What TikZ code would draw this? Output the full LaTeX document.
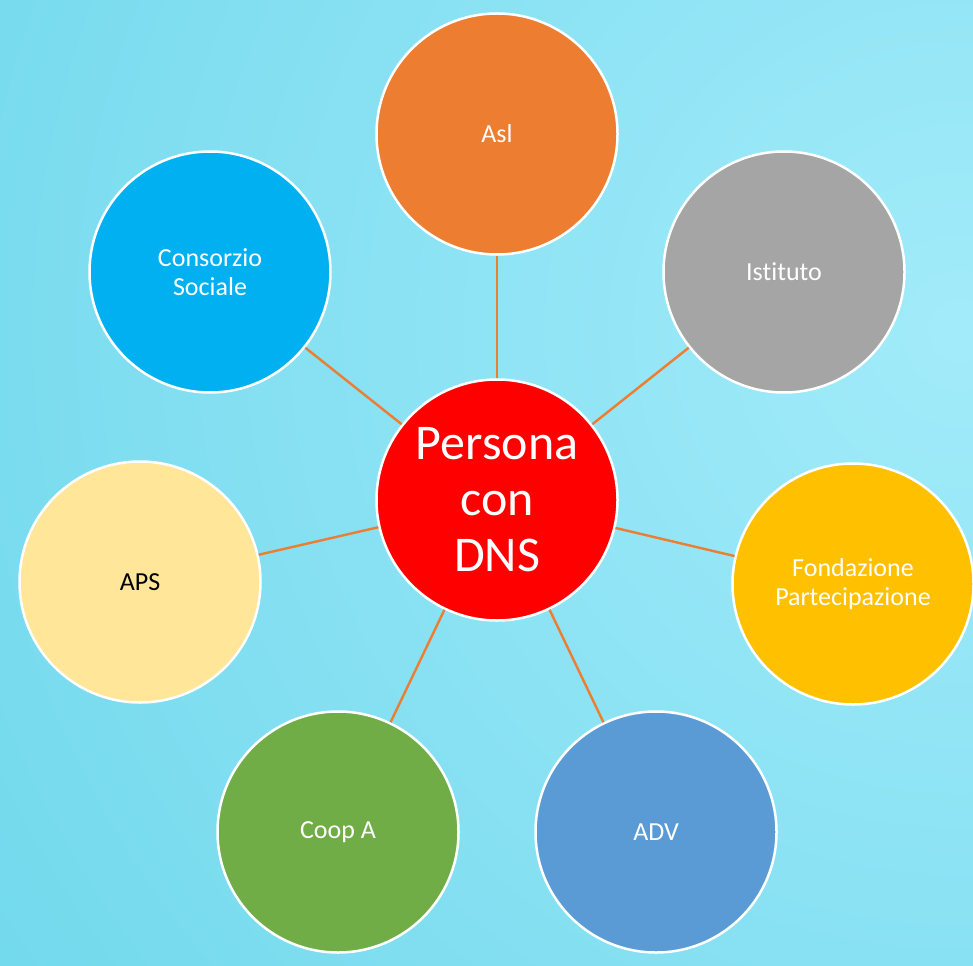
\documentclass[tikz,border=0pt]{standalone}
\usepackage{fontspec}
\setmainfont[Ligatures=NoCommon]{Carlito}
\definecolor{bgdark}{HTML}{60D2E7}
\definecolor{bglight}{HTML}{A2EBFA}
\definecolor{linkorange}{HTML}{ED7D31}
\definecolor{cAsl}{HTML}{ED7D31}
\definecolor{cIst}{HTML}{A5A5A5}
\definecolor{cFond}{HTML}{FFC000}
\definecolor{cAdv}{HTML}{5B9BD5}
\definecolor{cCoop}{HTML}{70AD47}
\definecolor{cAps}{HTML}{FFE699}
\definecolor{cCons}{HTML}{00B0F0}
\definecolor{cCentre}{HTML}{FF0000}
\begin{document}
\begin{tikzpicture}[x=1pt,y=-1pt,
  bubble/.style={circle,draw=white,line width=2.5pt,inner sep=0pt,
    minimum size=241pt,text=white,align=center,
    font=\fontsize{26}{29}\selectfont},
  hub/.style={bubble,fill=cCentre,font=\fontsize{50}{56}\selectfont},
  link/.style={draw=linkorange,line width=2.4pt}]
  % background with a soft light spot on the right
  \useasboundingbox (0,0) rectangle (973,965);
  \begin{scope}
    \clip (0,0) rectangle (973,965);
    \fill[bgdark] (0,0) rectangle (973,965);
    \shade[inner color=bglight,outer color=bgdark] (960,330) circle (1600);
  \end{scope}
  % nodes
  \node[hub] (centre) at (497,500) {Persona\\con\\DNS};
  \node[bubble,fill=cAsl] (asl) at (497,134) {Asl};
  \node[bubble,fill=cIst] (ist) at (784,272) {Istituto};
  \node[bubble,fill=cFond] (fond) at (853,584) {Fondazione\\Partecipazione};
  \node[bubble,fill=cAdv] (adv) at (656,832) {ADV};
  \node[bubble,fill=cCoop] (coop) at (338,832) {Coop A};
  \node[bubble,fill=cAps,text=black] (aps) at (140,582) {APS};
  \node[bubble,fill=cCons] (cons) at (210,272) {Consorzio\\Sociale};
  % connectors
  \foreach \n in {asl,ist,fond,adv,coop,aps,cons}
    \draw[link] (centre) -- (\n);
\end{tikzpicture}
\end{document}
